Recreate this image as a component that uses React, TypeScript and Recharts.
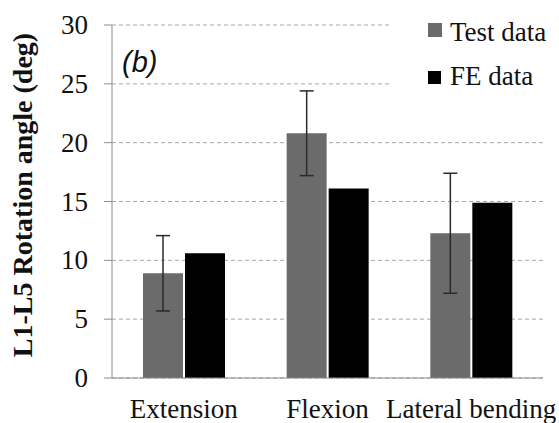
import React from 'react';
import { BarChart, Bar, XAxis, YAxis, CartesianGrid, ErrorBar } from 'recharts';

const categories = ['Extension', 'Flexion', 'Lateral bending'];
const testData = [8.9, 20.8, 12.3];
const testError = [3.2, 3.6, 5.1];
const feData = [10.6, 16.1, 14.9];
const yTicks = [0, 5, 10, 15, 20, 25, 30];
const boundaryTicks = [0, 1, 2, 3];

const data = categories.map((c, i) => ({
  name: c,
  test: testData[i],
  testErr: testError[i],
  fe: feData[i],
}));

const GRAY = '#6b6b6b';
const AXIS = '#8c8c8c';
const FONT = '"Liberation Serif", "Times New Roman", serif';

const XTick = (props: any) => {
  const { x, y, payload } = props;
  return (
    <text x={x} y={y} dy={19} textAnchor="middle" fill="#111" style={{ fontFamily: FONT, fontSize: 27 }}>
      {payload.value}
    </text>
  );
};

const YTick = (props: any) => {
  const { x, y, payload } = props;
  return (
    <text x={x} y={y} dy={9} textAnchor="end" fill="#111" style={{ fontFamily: FONT, fontSize: 27 }}>
      {payload.value}
    </text>
  );
};

export default function App() {
  return (
    <div style={{ position: 'absolute', left: 0, top: 0, width: 559, height: 423, background: '#fff', fontFamily: FONT }}>
      <BarChart
        width={559}
        height={423}
        data={data}
        margin={{ top: 25, right: 16, left: 0, bottom: 0 }}
        barSize={40}
        barGap={2}
        style={{ fontFamily: FONT }}
      >
        <CartesianGrid vertical={false} stroke="#a8a8a8" strokeDasharray="4 3" />
        <XAxis
          xAxisId="b"
          type="number"
          domain={[0, 3]}
          ticks={boundaryTicks}
          height={0}
          axisLine={false}
          tickLine={{ stroke: AXIS }}
          tickSize={7}
          tickFormatter={() => ''}
          allowDataOverflow
        />
        <XAxis
          dataKey="name"
          height={45}
          axisLine={{ stroke: AXIS }}
          tickLine={false}
          tickSize={0}
          tickMargin={21}
          interval={0}
          tick={<XTick />}
        />
        <YAxis
          width={112}
          domain={[0, 30]}
          ticks={yTicks}
          axisLine={{ stroke: AXIS }}
          tickLine={{ stroke: AXIS }}
          tickSize={8}
          tickMargin={16}
          tick={<YTick />}
        />
        <Bar dataKey="test" fill={GRAY} isAnimationActive={false}>
          <ErrorBar dataKey="testErr" width={7} stroke="#2a2a2a" strokeWidth={1.5} />
        </Bar>
        <Bar dataKey="fe" fill="#000" isAnimationActive={false} />
      </BarChart>
      <svg
        width={559}
        height={423}
        style={{ position: 'absolute', left: 0, top: 0, pointerEvents: 'none' }}
      >
        <text
          transform="translate(32,195) rotate(-90)"
          textAnchor="middle"
          fontFamily={FONT}
          fontWeight="bold"
          fontSize={28}
          fill="#111"
        >
          L1-L5 Rotation angle (deg)
        </text>
        <text x={122} y={72} fontFamily='"Liberation Sans", Arial, sans-serif' fontStyle="italic" fontSize={29} fill="#111">
          (b)
        </text>
        <rect x={389} y={8} width={170} height={88} fill="#fff" />
        <rect x={428} y={23} width={14} height={14} fill={GRAY} />
        <text x={450} y={41} fontFamily={FONT} fontSize={27} fill="#111">Test data</text>
        <rect x={428} y={71} width={13} height={13} fill="#000" />
        <text x={450} y={85} fontFamily={FONT} fontSize={27} fill="#111">FE data</text>
      </svg>
    </div>
  );
}
